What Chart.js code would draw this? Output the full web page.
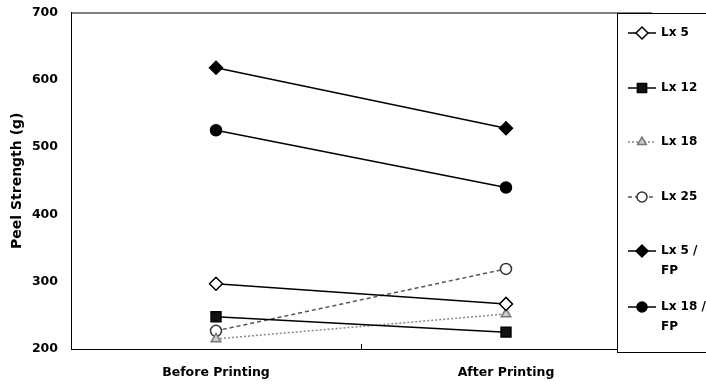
<!DOCTYPE html>
<html>
<head>
<meta charset="utf-8">
<script src="https://cdn.jsdelivr.net/npm/chart.js@4"></script>
<style>
  html, body { margin: 0; padding: 0; background: #fff; }
  #wrap { width: 706px; height: 387px; }
</style>
</head>
<body>
<div id="wrap"><canvas id="peelChart" width="706" height="387"></canvas></div>
<script>
(function () {
  "use strict";

  // data
  var stages = ["Before Printing", "After Printing"];
  var seriesNames = ["Lx 5", "Lx 12", "Lx 18", "Lx 25", "Lx 5 / FP", "Lx 18 / FP"];
  var lx5 = [297, 267];
  var lx12 = [248, 225];
  var lx18 = [215, 252];
  var lx25 = [227, 319];
  var lx5fp = [618, 528];
  var lx18fp = [525, 440];
  var yTicks = [200, 300, 400, 500, 600, 700];

  var FONT = "'DejaVu Sans', sans-serif";

  function series(i, values, style) {
    return {
      label: seriesNames[i],
      data: values,
      borderColor: style.line,
      borderWidth: 1.5,
      borderDash: style.dash || [],
      pointStyle: style.point,
      pointRadius: style.radius,
      pointBackgroundColor: style.fill,
      pointBorderColor: style.edge,
      pointBorderWidth: 1.5,
      tension: 0,
    };
  }

  var datasets = [
    series(0, lx5, { line: "#000", point: "rectRot", radius: 6.5, fill: "#fff", edge: "#000" }),
    series(1, lx12, { line: "#000", point: "rect", radius: 7, fill: "#111", edge: "#000" }),
    series(2, lx18, { line: "#888", dash: [2, 2], point: "triangle", radius: 5.5, fill: "#ccc", edge: "#777" }),
    series(3, lx25, { line: "#555", dash: [4, 3], point: "circle", radius: 5.5, fill: "#fff", edge: "#333" }),
    series(4, lx5fp, { line: "#000", point: "rectRot", radius: 6.5, fill: "#000", edge: "#000" }),
    series(5, lx18fp, { line: "#000", point: "circle", radius: 5.5, fill: "#000", edge: "#000" }),
  ];

  // frame, center tick and the boxed legend drawn over the plot
  var framePlugin = {
    id: "frame",
    afterDatasetsDraw: function (chart) {
      var ctx = chart.ctx;
      var a = chart.chartArea;
      var x = chart.scales.x;
      ctx.save();
      ctx.strokeStyle = "#000";
      ctx.lineWidth = 1;
      ctx.strokeRect(a.left + 0.5, a.top + 0.5, a.right - a.left, a.bottom - a.top);
      var mid = Math.round((x.getPixelForValue(0) + x.getPixelForValue(1)) / 2) + 0.5;
      ctx.beginPath();
      ctx.moveTo(mid, a.bottom);
      ctx.lineTo(mid, a.bottom - 5);
      ctx.stroke();

      // legend box
      ctx.fillStyle = "#fff";
      ctx.fillRect(617, 13, 95, 339);
      ctx.strokeRect(617.5, 13.5, 95, 339);

      var rows = [33, 88, 142, 197, 251, 307];
      ctx.font = "bold 12px " + FONT;
      ctx.textBaseline = "middle";
      chart.data.datasets.forEach(function (ds, i) {
        var y = rows[i];
        ctx.save();
        ctx.strokeStyle = ds.borderColor;
        ctx.lineWidth = 1.5;
        ctx.setLineDash(ds.borderDash);
        ctx.beginPath();
        ctx.moveTo(628, y);
        ctx.lineTo(656, y);
        ctx.stroke();
        ctx.setLineDash([]);
        ctx.fillStyle = ds.pointBackgroundColor;
        ctx.strokeStyle = ds.pointBorderColor;
        Chart.helpers.drawPoint(ctx, {
          pointStyle: ds.pointStyle,
          radius: ds.pointRadius - 0.5,
          rotation: 0,
          borderWidth: 1.5,
        }, 642, y);
        ctx.restore();
        ctx.fillStyle = "#000";
        var parts = ds.label.split(" / ");
        if (parts.length > 1) {
          ctx.fillText(parts[0] + " /", 661, y);
          ctx.fillText(parts[1], 661, y + 20);
        } else {
          ctx.fillText(ds.label, 661, y);
        }
      });
      ctx.restore();
    },
  };

  new Chart(document.getElementById("peelChart"), {
    type: "line",
    data: { labels: stages, datasets: datasets },
    plugins: [framePlugin],
    options: {
      responsive: false,
      animation: false,
      layout: { padding: { top: 6, right: 55, left: 0, bottom: 0 } },
      plugins: {
        legend: { display: false },
        tooltip: { enabled: false },
      },
      scales: {
        x: {
          offset: true,
          grid: { display: false },
          border: { display: true, color: "#000", width: 1 },
          ticks: {
            color: "#000",
            font: { family: FONT, size: 12.5, weight: "bold" },
            padding: 8,
            maxRotation: 0,
          },
          afterFit: function (s) { s.height = 38; },
        },
        y: {
          min: 200,
          max: 700,
          afterBuildTicks: function (s) {
            s.ticks = yTicks.map(function (v) { return { value: v }; });
          },
          grid: { display: false },
          border: { display: true, color: "#000", width: 1 },
          ticks: {
            color: "#000",
            font: { family: FONT, size: 12.5, weight: "bold" },
            padding: 5,
          },
          title: {
            display: true,
            text: "Peel Strength (g)",
            color: "#000",
            font: { family: FONT, size: 14, weight: "bold" },
            padding: { top: 9, bottom: 4 },
          },
          afterFit: function (s) { s.width = 71; },
        },
      },
    },
  });
})();
</script>
</body>
</html>
